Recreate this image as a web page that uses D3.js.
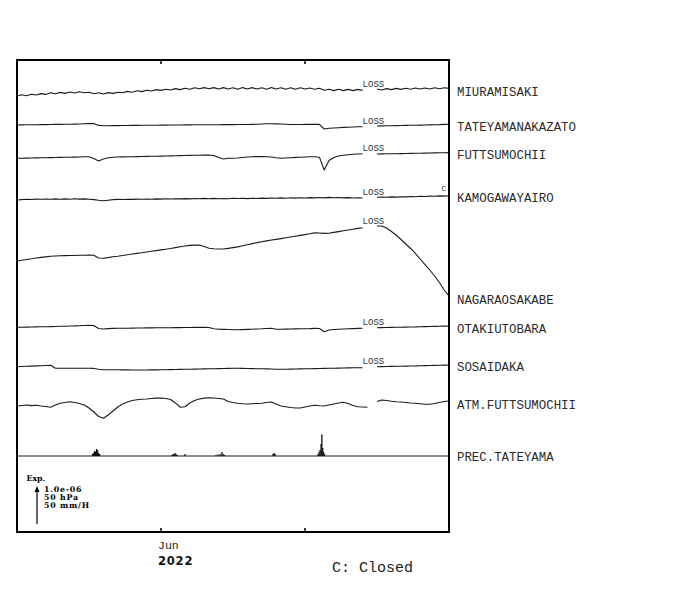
<!DOCTYPE html>
<html><head><meta charset="utf-8">
<script src="https://cdn.jsdelivr.net/npm/d3@7"></script>
<style>body{margin:0;background:#fff}</style>
</head><body>
<svg id="c" width="700" height="590"></svg>
<script>
// ---------- data ----------
const startDate = "2022-05-02";
const endDate = "2022-07-31";
const stations = ["MIURAMISAKI","TATEYAMANAKAZATO","FUTTSUMOCHII","KAMOGAWAYAIRO","NAGARAOSAKABE","OTAKIUTOBARA","SOSAIDAKA","ATM.FUTTSUMOCHII","PREC.TATEYAMA"];
// tilt, nrad (1e-9 rad), relative to first sample; null = data loss
const miuramisaki = [0,30,5,45,25,60,40,80,55,90,65,100,75,105,80,95,55,80,50,85,65,95,80,115,95,130,110,145,125,160,140,170,150,185,160,195,170,205,180,210,180,210,175,210,175,205,170,210,175,210,175,205,170,210,175,205,170,205,170,205,175,200,170,195,145,170,135,170,135,165,135,165,140,null,null,175,150,185,160,190,165,195,170,200,175,200,175,205,180,205,190];
const tateyamanakazato = [0,3,5,5,8,10,10,13,15,15,18,20,23,25,30,35,35,-10,-20,-18,-15,-15,-13,-13,-10,-10,-8,-8,-5,-5,-3,-3,0,0,0,3,3,5,5,5,8,8,8,10,10,10,13,13,13,15,18,25,30,30,28,25,18,13,13,13,15,15,15,15,-100,-83,-75,-68,-60,-55,-50,-45,-43,null,null,-25,-23,-20,-18,-15,-13,-10,-8,-5,-3,0,3,8,10,15,18];
const futtsumochii = [0,3,5,8,10,13,15,18,20,23,25,28,30,33,38,40,-5,-68,-18,15,28,33,35,38,40,43,45,48,50,53,55,58,60,63,68,70,73,75,78,80,83,70,20,-18,0,0,8,20,33,40,43,43,40,33,13,0,8,15,23,28,33,38,40,28,-293,-55,20,58,75,88,100,108,115,null,null,108,110,113,113,115,118,120,123,125,128,130,133,135,138,140,143];
const kamogawayairo = [0,10,18,13,23,18,25,18,28,20,28,20,30,23,28,20,10,-8,-18,-5,10,15,13,20,15,23,18,25,20,28,23,30,25,33,28,35,28,38,30,40,33,40,30,38,33,43,38,43,35,45,38,48,40,50,43,53,45,55,48,58,50,60,53,63,53,65,55,63,53,60,50,55,50,null,null,68,73,68,78,73,83,78,88,83,93,88,98,93,103,98,108];
const nagaraosakabe = [0,20,38,55,75,90,103,118,125,130,135,138,138,143,145,150,143,75,68,85,105,120,138,155,173,190,205,225,243,260,278,295,313,335,355,375,390,398,400,363,318,305,300,300,315,335,353,380,408,435,460,483,503,523,540,560,580,600,620,640,660,680,703,700,690,693,715,735,755,775,795,815,833,null,null,875,875,825,738,650,538,425,313,188,50,-88,-225,-375,-538,-725,-875];
const otakiutobara = [0,3,5,8,10,13,15,18,20,25,28,33,35,40,45,50,43,-30,-43,-33,-28,-25,-23,-23,-20,-18,-18,-15,-15,-13,-13,-10,-10,-8,-8,-5,-5,-3,-3,0,-5,-38,-50,-53,-55,-60,-63,-58,-53,-48,-43,-38,-30,-25,-48,-48,-45,-43,-40,-38,-35,-33,-28,-30,-113,-68,-55,-48,-43,-38,-33,-28,-25,null,null,-10,-8,-5,-3,0,3,5,8,10,15,18,20,23,28,30,33];
const sosaidaka = [0,5,10,15,20,25,30,35,-40,-40,-40,-40,-40,-40,-40,-40,-43,-65,-75,-75,-78,-78,-80,-80,-83,-83,-83,-83,-80,-80,-78,-75,-73,-70,-68,-65,-63,-60,-58,-55,-53,-50,-48,-45,-43,-40,-40,-43,-45,-48,-50,-53,-55,-58,-63,-65,-63,-60,-58,-55,-53,-50,-48,-45,-43,-40,-38,-35,-33,-30,-28,-28,-25,null,null,0,3,5,8,10,13,15,18,20,25,28,30,33,38,40,43];
// atmospheric pressure, hPa
const atmFuttsumochii = [1010.0,1010.6,1011.3,1010.5,1011.0,1010.0,1009.4,1008.4,1011.3,1013.4,1014.4,1015.4,1014.4,1013.1,1011.3,1007.5,1002.5,996.9,994.6,998.8,1003.8,1008.8,1012.5,1015.0,1016.9,1017.8,1018.4,1018.8,1019.4,1019.8,1020.0,1019.4,1018.1,1013.8,1008.4,1009.1,1013.8,1016.9,1018.8,1019.8,1020.4,1020.0,1019.4,1018.8,1015.6,1014.4,1013.4,1012.8,1012.5,1012.8,1013.1,1013.4,1014.4,1015.0,1012.5,1010.0,1009.0,1008.1,1007.5,1007.5,1008.8,1010.0,1010.9,1010.3,1010.0,1011.3,1012.5,1013.8,1014.6,1013.1,1010.6,1009.1,1008.8,1008.4,null,1015.6,1017.5,1016.9,1016.0,1015.4,1015.0,1014.4,1013.8,1013.4,1012.8,1012.1,1012.1,1013.1,1014.4,1015.6,1016.3];
// precipitation, mm/h
const precTimes = ["2022-05-17T17:30","2022-05-17T22:30","2022-05-18T03:30","2022-05-18T08:30","2022-05-18T13:30","2022-05-18T18:30","2022-05-18T23:30","2022-05-19T04:30",
  "2022-06-03T07:00","2022-06-03T12:00","2022-06-03T17:00","2022-06-03T22:00","2022-06-04T03:00","2022-06-04T08:00",
  "2022-06-06T00:00",
  "2022-06-12T11:00","2022-06-12T21:00","2022-06-13T07:00","2022-06-13T17:00","2022-06-13T22:00","2022-06-14T05:30",
  "2022-06-24T08:00","2022-06-24T13:00","2022-06-24T18:00",
  "2022-07-03T17:00","2022-07-03T22:00","2022-07-04T03:00","2022-07-04T08:00","2022-07-04T12:00","2022-07-04T16:30","2022-07-04T20:30","2022-07-05T01:30"];
const precValues = [2.5,3.8,6.3,5,8.8,7.5,3.8,2.5,
  1.3,2.5,2.5,3.8,2.5,1.3,
  2.5,
  1.3,1.9,2.5,5,2.5,1.3,
  2.5,3.8,2.5,
  2.5,5,7.5,15,27,10,5,2.5];
const tiltSeries = [miuramisaki,tateyamanakazato,futtsumochii,kamogawayairo,nagaraosakabe,otakiutobara,sosaidaka];
const lossStations = [0,1,2,3,4,5,6];
const closedStations = [3];
const scaleTexts = ["1.0e-06","50 hPa","50 mm/H"];

// ---------- layout ----------
const L=17,R=449,T=60,B=532;
const unitPx = 40;                  // length of the scale arrow
const traceBase = [96,125,158.3,200,261,327.3,366.7];   // y of zero for tilt traces
const atmBase = 406, atmRef = 1010;
const precBase = 456;
const labelY = [96,130.5,159,201.5,304,333,371,408.7,461];

const svg = d3.select("#c");
const parseT = d3.utcParse("%Y-%m-%dT%H:%M");
const parseD = d3.utcParse("%Y-%m-%d");
const t0 = parseD(startDate), t1 = parseD(endDate);
const days = d3.range(miuramisaki.length).map(i => d3.utcDay.offset(t0, i));
const x = d3.scaleUtc().domain([t0,t1]).range([L,R]);

const lineCol = "#1a1a1a";
const g = svg.append("g");

// tilt traces
tiltSeries.forEach((s,k)=>{
  const y = d3.scaleLinear().domain([0,1000]).range([traceBase[k], traceBase[k]-unitPx]);
  const line = d3.line().defined(d=>d!=null).x((d,i)=>x(days[i])).y(d=>y(d));
  g.append("path").datum(s).attr("d",line).attr("fill","none")
   .attr("stroke",lineCol).attr("stroke-width",1.1).attr("stroke-linejoin","round");
  if (lossStations.includes(k)) {
    const before = s[72], after = s[75];
    const ly = Math.min(y(before), y(after)) - 2.5;
    g.append("text").attr("x", x(days[72])).attr("y", ly)
     .attr("font-family","'Liberation Mono', monospace").attr("font-size",9)
     .attr("fill","#333").text("LOSS");
  }
  if (closedStations.includes(k)) {
    const last = s[s.length-1];
    g.append("text").attr("x", R-7.5).attr("y", y(last)-4.5)
     .attr("font-family","'Liberation Mono', monospace").attr("font-size",8)
     .attr("fill","#333").text("C");
  }
});

// pressure
{
  const y = d3.scaleLinear().domain([atmRef, atmRef+50]).range([atmBase, atmBase-unitPx]);
  const line = d3.line().defined(d=>d!=null).x((d,i)=>x(days[i])).y(d=>y(d));
  g.append("path").datum(atmFuttsumochii).attr("d",line).attr("fill","none")
   .attr("stroke",lineCol).attr("stroke-width",1.1).attr("stroke-linejoin","round");
}

// precipitation
{
  const y = d3.scaleLinear().domain([0,50]).range([precBase, precBase-unitPx]);
  g.append("line").attr("x1",L).attr("x2",R).attr("y1",y(0)).attr("y2",y(0))
   .attr("stroke",lineCol).attr("stroke-width",1);
  g.selectAll("rect.p").data(precValues).join("rect").attr("class","p")
   .attr("x",(d,i)=>x(parseT(precTimes[i]))-0.6).attr("width",1.3)
   .attr("y",d=>y(d)).attr("height",d=>y(0)-y(d)).attr("fill","#111");
}

// frame
svg.append("rect").attr("x",L).attr("y",T).attr("width",R-L).attr("height",B-T)
  .attr("fill","none").attr("stroke","#000").attr("stroke-width",2);

// month ticks
const months = x.ticks(d3.utcMonth);
months.forEach(m=>{
  svg.append("line").attr("x1",x(m)).attr("x2",x(m)).attr("y1",T).attr("y2",T+4).attr("stroke","#000").attr("stroke-width",1.5);
  svg.append("line").attr("x1",x(m)).attr("x2",x(m)).attr("y1",B-4).attr("y2",B).attr("stroke","#000").attr("stroke-width",1.5);
});
const fmtMon = d3.utcFormat("%b");
const firstMonth = months[0];
svg.append("text").attr("x",x(firstMonth)-3).attr("y",549)
  .attr("font-family","'Liberation Mono', monospace").attr("font-size",11.5).attr("fill","#222")
  .text(fmtMon(firstMonth));
svg.append("text").attr("x",x(firstMonth)-3).attr("y",565)
  .attr("font-family","'DejaVu Sans', sans-serif").attr("font-weight","bold").attr("font-size",11.5)
  .attr("letter-spacing",0.8).attr("fill","#111").text(d3.utcFormat("%Y")(firstMonth));

// station labels
stations.forEach((s,i)=>{
  svg.append("text").attr("x",457).attr("y",labelY[i])
    .attr("font-family","'Liberation Mono', monospace").attr("font-size",12.4).attr("fill","#2a2a2a").text(s);
});

// scale legend
svg.append("text").attr("x",26.5).attr("y",480.5)
  .attr("font-family","'DejaVu Serif', serif").attr("font-weight","bold").attr("font-size",7.8).text("Exp.");
const arrowBottom = 524;
svg.append("line").attr("x1",37).attr("x2",37).attr("y1",arrowBottom).attr("y2",arrowBottom-unitPx+5)
  .attr("stroke","#000").attr("stroke-width",1.2);
svg.append("path").attr("d",`M37,${arrowBottom-unitPx+2} l-2.5,6 h5 z`).attr("fill","#000");
scaleTexts.forEach((t,i)=>{
  svg.append("text").attr("x",44).attr("y",492.3+i*8)
    .attr("font-family","'DejaVu Serif', serif").attr("font-weight","bold").attr("font-size",7.8)
    .attr("letter-spacing",0.8).text(t);
});

svg.append("text").attr("x",332).attr("y",572)
  .attr("font-family","'Liberation Mono', monospace").attr("font-size",15).attr("fill","#222").text("C: Closed");
</script>
</body></html>
